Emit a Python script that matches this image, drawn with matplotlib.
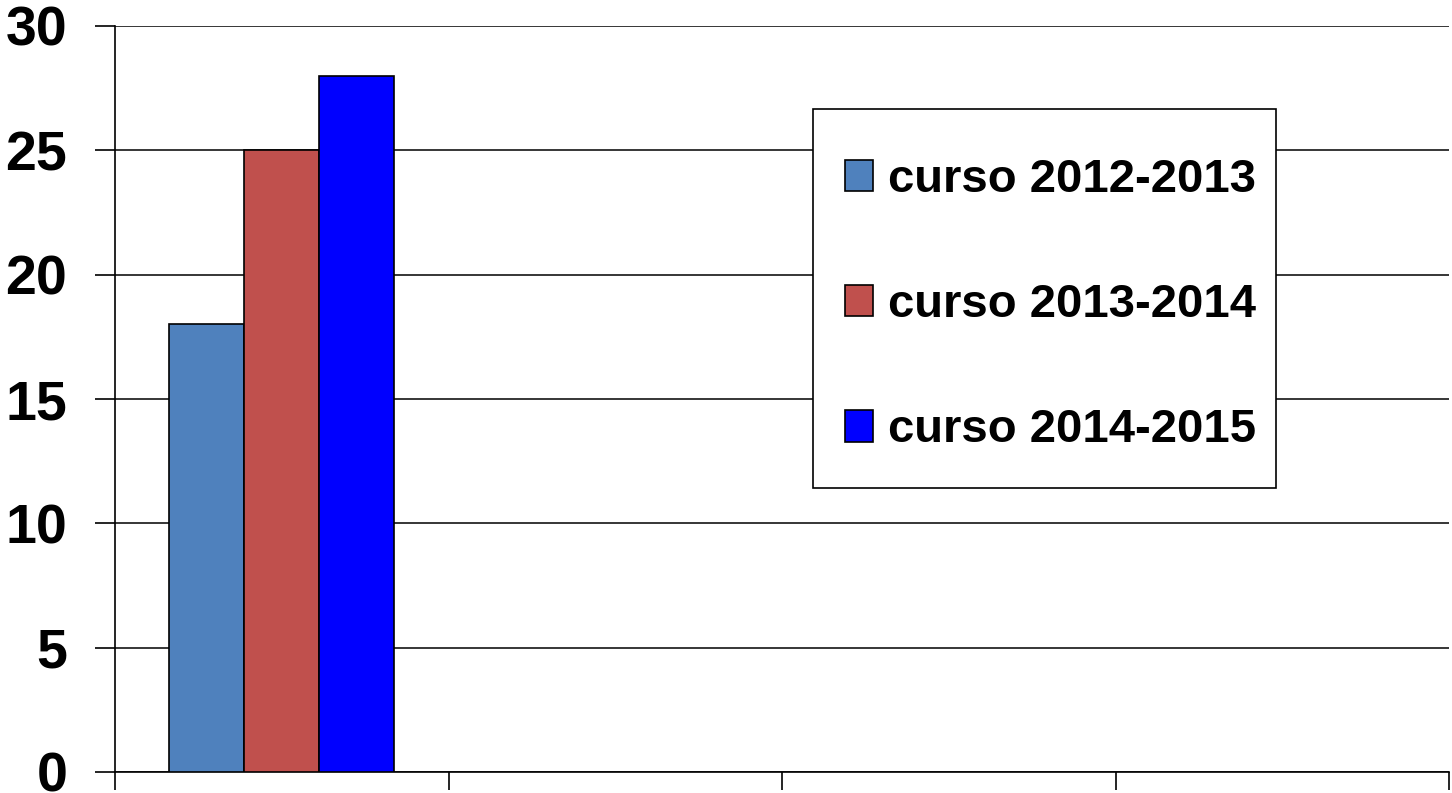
import numpy as np
import matplotlib
matplotlib.use("Agg")
import matplotlib.pyplot as plt
from matplotlib.patches import Rectangle

plt.rcParams['font.family'] = ['Liberation Sans', 'DejaVu Sans']
plt.rcParams['font.weight'] = 'bold'

categories = ["", "", "", ""]
series_names = ["curso 2012-2013", "curso 2013-2014", "curso 2014-2015"]
v2012 = [18, np.nan, np.nan, np.nan]
v2013 = [25, np.nan, np.nan, np.nan]
v2014 = [28, np.nan, np.nan, np.nan]
colors = ["#4F81BD", "#C0504D", "#0000FF"]
yticks = [0, 5, 10, 15, 20, 25, 30]

W, H = 1452, 793
fig = plt.figure(figsize=(W/100, H/100), dpi=100)
ax = fig.add_axes([115/W, 1-772/H, (1449-115)/W, (772-26)/H])

x = np.arange(len(categories))
w = 0.225
for i, (vals, name, c) in enumerate(zip([v2012, v2013, v2014], series_names, colors)):
    ax.bar(x + (i-1)*w, vals, w, color=c, edgecolor='black', linewidth=1.2, label=name, zorder=3)

ax.set_xlim(-0.5, len(categories)-0.5)
ax.set_ylim(0, 30)
ax.set_yticks(yticks)
ax.set_yticklabels([str(t) for t in yticks], fontsize=40, fontweight='bold')
ax.set_xticks(np.arange(len(categories)+1) - 0.5)
ax.set_xticklabels([""]*(len(categories)+1))
ax.tick_params(axis='y', length=14.4, width=1.2, pad=20, direction='out')
ax.tick_params(axis='x', length=13, width=1.2, direction='out')
ax.yaxis.grid(True, color='black', linewidth=1.1, zorder=0)
ax.set_axisbelow(True)
for s in ['top', 'right']:
    ax.spines[s].set_visible(False)
for s in ['left', 'bottom']:
    ax.spines[s].set_linewidth(1.2)
    ax.spines[s].set_color('black')

# legend frame
frame = Rectangle((813/W, 1-488/H), (1276-813)/W, (488-109)/H, transform=fig.transFigure,
                  facecolor='white', edgecolor='black', linewidth=1.2, zorder=5, clip_on=False)
ax.add_patch(frame)

leg = ax.legend(loc='upper left', bbox_to_anchor=(845/W, 1-158/H),
                bbox_transform=fig.transFigure, frameon=False,
                handlelength=0.6, handleheight=0.65, handletextpad=0.32,
                labelspacing=1.72, borderpad=0, borderaxespad=0,
                prop={'size': 34, 'weight': 'bold'})
leg.set_zorder(6)

fig.savefig("out.png", dpi=100)
